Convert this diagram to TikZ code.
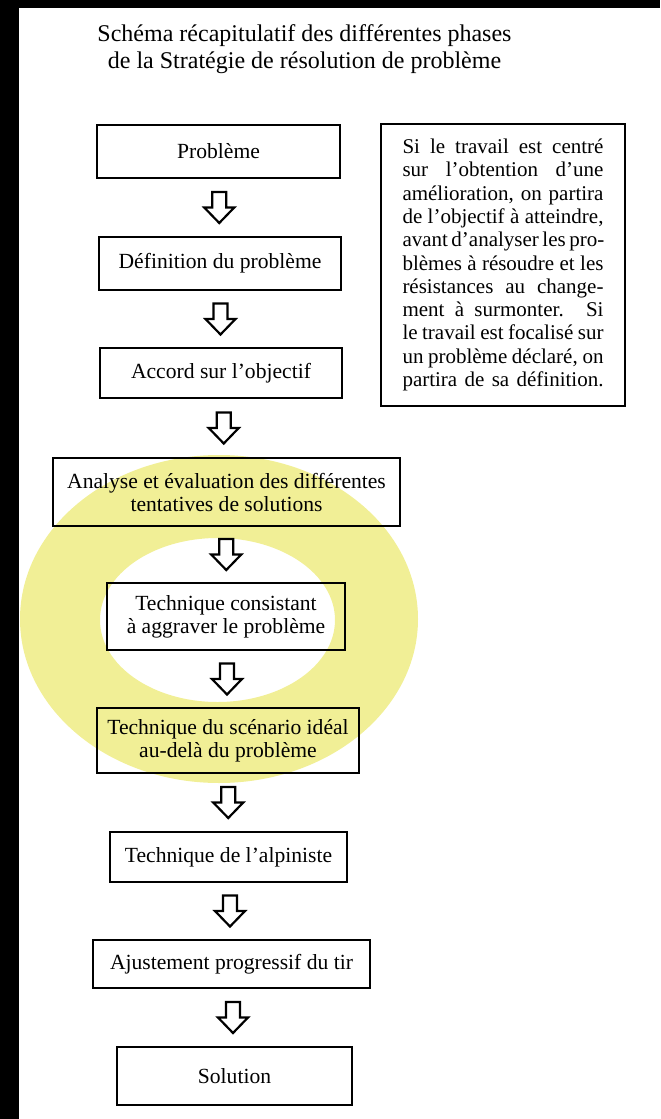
\documentclass[tikz,border=0pt]{standalone}
\usepackage{fontspec}
\setmainfont{Liberation Serif}
\usepackage{tikz}
\usetikzlibrary{calc}
\definecolor{surligneur}{RGB}{241,239,150}
\tikzstyle{etape} = [rectangle, draw, line width=0.6pt, align=center, inner sep=0pt, font=\fontsize{10.8}{11.5}\selectfont]
\tikzset{
    pics/fleche/.style={code={
        \draw[line width=1.1pt, line join=miter] (-3.5pt,7.75pt) -- (3.5pt,7.75pt) -- (3.5pt,0pt) -- (7.5pt,0pt)
            -- (0pt,-7.75pt) -- (-7.5pt,0pt) -- (-3.5pt,0pt) -- cycle;
    }}
}
\newcommand{\ligne}[1]{\makebox[100.5pt][s]{#1}}

\begin{document}
\begin{tikzpicture}[x=0.5pt, y=-0.5pt]
\useasboundingbox (0,0) rectangle (660,1119);
\fill[black] (0,0) rectangle (19,1119);
\fill[black] (0,0) rectangle (660,8);

% surlignage jaune
\fill[surligneur, even odd rule] (219,619) ellipse [x radius=99.5pt, y radius=82pt]
    (217.5,620) ellipse [x radius=58.75pt, y radius=41pt];

\node[align=center, font=\fontsize{12}{13.5}\selectfont] (titre) at (304.5,49.5) {
    Schéma récapitulatif des différentes phases\\
    de la Stratégie de résolution de problème
};

\node[etape, minimum width=121.5pt, minimum height=26.5pt] (probleme) at (218.5,151.5) {Problème};
\node[etape, minimum width=121pt, minimum height=26.5pt] (definition) at (220,263.5) {Définition du problème};
\node[etape, minimum width=121pt, minimum height=25pt] (accord) at (221,373) {Accord sur l'objectif};
\node[etape, minimum width=173.5pt, minimum height=34pt] (analyse) at (226.5,492) {
    Analyse et évaluation des différentes\\
    tentatives de solutions
};
\node[etape, minimum width=119pt, minimum height=33.5pt] (aggraver) at (226,616.5) {
    Technique consistant\\
    à aggraver le problème
};
\node[etape, minimum width=131pt, minimum height=32.5pt] (scenario) at (228,740.5) {
    Technique du scénario idéal\\
    au-delà du problème
};
\node[etape, minimum width=118.5pt, minimum height=25pt] (alpiniste) at (228.5,857) {Technique de l'alpiniste};
\node[etape, minimum width=138.5pt, minimum height=24pt] (ajustement) at (231.5,964) {Ajustement progressif du tir};
\node[etape, minimum width=117.5pt, minimum height=29pt] (solution) at (234.5,1076) {Solution};

\node[etape, align=left, minimum width=122pt, minimum height=141pt, font=\fontsize{10.5}{11.65}\selectfont] (remarque) at (503,265) {
    \ligne{Si le travail est centré}\\
    \ligne{sur l'obtention d'une}\\
    \ligne{amélioration, on partira}\\
    \ligne{de l'objectif à atteindre,}\\
    \ligne{avant d'analyser les pro-}\\
    \ligne{blèmes à résoudre et les}\\
    \ligne{résistances au change-}\\
    \ligne{ment à surmonter. Si}\\
    \ligne{le travail est focalisé sur}\\
    \ligne{un problème déclaré, on}\\
    \ligne{partira de sa définition.}
};

\pic (f1) at ($(probleme.south)!0.5!(definition.north)$) {fleche};
\pic (f2) at ($(definition.south)!0.5!(accord.north)$) {fleche};
\pic (f3) at ($(accord.south)!0.5!(analyse.north)$) {fleche};
\pic (f4) at ($(analyse.south)!0.5!(aggraver.north)$) {fleche};
\pic (f5) at ($(aggraver.south)!0.5!(scenario.north)$) {fleche};
\pic (f6) at ($(scenario.south)!0.5!(alpiniste.north)$) {fleche};
\pic (f7) at ($(alpiniste.south)!0.5!(ajustement.north)$) {fleche};
\pic (f8) at ($(ajustement.south)!0.5!(solution.north)$) {fleche};
\end{tikzpicture}
\end{document}
